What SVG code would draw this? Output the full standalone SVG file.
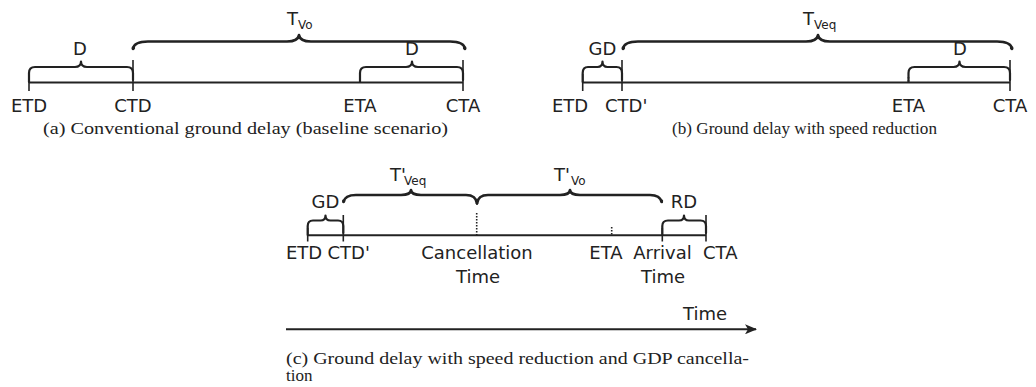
<svg xmlns="http://www.w3.org/2000/svg" width="1036" height="387" viewBox="0 0 1036 387">
<style>
.lbl{font-family:"DejaVu Sans",sans-serif;font-size:18px;fill:#222}
.sub{font-size:12px}
.cap{font-family:"Liberation Serif",serif;font-size:17px;fill:#222}
.axis{stroke:#222;stroke-width:2;fill:none}
.tick{stroke:#222;stroke-width:1.6;fill:none}
.dot{stroke:#222;stroke-width:1.6;stroke-dasharray:1.5 1.5;fill:none}
.brace{stroke:#222;stroke-width:2.2;fill:none;stroke-linecap:round;stroke-linejoin:round}
.bigbrace{stroke:#222;stroke-width:2.6;fill:none;stroke-linecap:round;stroke-linejoin:round}
.end{fill:#222}
</style>
<defs>
<marker id="arr" viewBox="0 0 12 10" refX="11" refY="5" markerWidth="12" markerHeight="10" markerUnits="userSpaceOnUse" orient="auto">
<path d="M0,0 L12,5 L0,10 L3,5 Z" fill="#222"/>
</marker>
</defs>

<!-- Panel (a) -->
<g id="panel-a">
<g id="a-connectors">
<line class="axis" x1="29" y1="82.5" x2="463" y2="82.5"/>
<line class="tick" x1="29" y1="74" x2="29" y2="91"/>
<line class="tick" x1="133" y1="60" x2="133" y2="91"/>
<line class="dot" x1="360" y1="77" x2="360" y2="82"/>
<line class="tick" x1="463" y1="60" x2="463" y2="91"/>
<path class="brace" d="M29,82 L29,73 Q29,67 35,67 L75,67 Q81,67 81,61.5 Q81,67 87,67 L127,67 Q133,67 133,73 L133,80"/>
<path class="brace" d="M360,82 L360,73 Q360,67 366,67 L406,67 Q412,67 412,61.5 Q412,67 418,67 L457,67 Q463,67 463,73 L463,80"/>
<path class="bigbrace" d="M133,49 Q134,41.5 148,41.5 L287,41.5 Q298,41.5 299,35 Q300,41.5 311,41.5 L450,41.5 Q464,41.5 465,49"/>
<circle class="end" cx="133.3" cy="48" r="1.8"/>
<circle class="end" cx="464.7" cy="48" r="1.8"/>
</g>
<g id="a-etd"><text class="lbl" x="29" y="111.5" text-anchor="middle">ETD</text></g>
<g id="a-ctd"><text class="lbl" x="133" y="111.5" text-anchor="middle">CTD</text></g>
<g id="a-eta"><text class="lbl" x="360" y="111.5" text-anchor="middle">ETA</text></g>
<g id="a-cta"><text class="lbl" x="463" y="111.5" text-anchor="middle">CTA</text></g>
<g id="a-d1"><text class="lbl" x="80" y="55" text-anchor="middle">D</text></g>
<g id="a-d2"><text class="lbl" x="412" y="55" text-anchor="middle">D</text></g>
<g id="a-t"><text class="lbl" x="287" y="25">T<tspan class="sub" dy="4">Vo</tspan></text></g>
<text class="cap" x="43" y="134" textLength="405" lengthAdjust="spacingAndGlyphs">(a) Conventional ground delay (baseline scenario)</text>
</g>

<!-- Panel (b) -->
<g id="panel-b">
<g id="b-connectors">
<line class="axis" x1="582.7" y1="82.5" x2="1010" y2="82.5"/>
<line class="tick" x1="582.7" y1="74" x2="582.7" y2="91"/>
<line class="tick" x1="622" y1="60" x2="622" y2="91"/>
<line class="dot" x1="908.5" y1="77" x2="908.5" y2="82"/>
<line class="tick" x1="1010" y1="60" x2="1010" y2="91"/>
<path class="brace" d="M582.7,82 L582.7,73 Q582.7,67 588,67 L597.5,67 Q602.5,67 602.5,61.5 Q602.5,67 607.5,67 L616.5,67 Q622,67 622,73 L622,80"/>
<path class="brace" d="M908.5,82 L908.5,73 Q908.5,67 914.5,67 L953.5,67 Q959.5,67 959.5,61.5 Q959.5,67 965.5,67 L1004,67 Q1010,67 1010,73 L1010,80"/>
<path class="bigbrace" d="M623,49 Q624,41.5 638,41.5 L806,41.5 Q817,41.5 818,35 Q819,41.5 830,41.5 L997,41.5 Q1011,41.5 1012,49"/>
<circle class="end" cx="623.3" cy="48" r="1.8"/>
<circle class="end" cx="1011.7" cy="48" r="1.8"/>
</g>
<g id="b-etd"><text class="lbl" x="552" y="111.5">ETD</text></g>
<g id="b-ctd"><text class="lbl" x="605" y="111.5">CTD'</text></g>
<g id="b-eta"><text class="lbl" x="908.5" y="111.5" text-anchor="middle">ETA</text></g>
<g id="b-cta"><text class="lbl" x="1010" y="111.5" text-anchor="middle">CTA</text></g>
<g id="b-gd"><text class="lbl" x="602.5" y="55" text-anchor="middle">GD</text></g>
<g id="b-d"><text class="lbl" x="960" y="55" text-anchor="middle">D</text></g>
<g id="b-t"><text class="lbl" x="803" y="25">T<tspan class="sub" dy="4">Veq</tspan></text></g>
<text class="cap" x="672" y="134" textLength="265" lengthAdjust="spacingAndGlyphs">(b) Ground delay with speed reduction</text>
</g>

<!-- Panel (c) -->
<g id="panel-c">
<g id="c-connectors">
<line class="axis" x1="307.7" y1="235.3" x2="706" y2="235.3"/>
<line class="tick" x1="307.7" y1="228" x2="307.7" y2="241.5"/>
<line class="tick" x1="343.3" y1="215" x2="343.3" y2="241.5"/>
<line class="dot" x1="476.7" y1="213" x2="476.7" y2="235"/>
<line class="dot" x1="611.7" y1="227" x2="611.7" y2="235"/>
<line class="tick" x1="662.3" y1="228" x2="662.3" y2="241.5"/>
<line class="tick" x1="706" y1="215" x2="706" y2="241.5"/>
<path class="brace" d="M307.7,235 L307.7,226 Q307.7,220.5 313,220.5 L320.5,220.5 Q325.5,220.5 325.5,215.5 Q325.5,220.5 330.5,220.5 L338,220.5 Q343.3,220.5 343.3,226 L343.3,233"/>
<path class="brace" d="M662.3,235 L662.3,226 Q662.3,220.5 668,220.5 L679,220.5 Q684,220.5 684,215.5 Q684,220.5 689,220.5 L700.5,220.5 Q706,220.5 706,226 L706,233"/>
<path class="bigbrace" d="M343.5,202 Q345,195 356,195 L401,195 Q410.5,195 411,190 Q411.5,195 421,195 L466,195 Q476,195 477,203.5"/>
<path class="bigbrace" d="M477,203.5 Q478,195 488,195 L560,195 Q569.5,195 570,190 Q570.5,195 580,195 L650,195 Q660,195 661.7,202"/>
<circle class="end" cx="343.7" cy="201" r="1.7"/>
<circle class="end" cx="661.5" cy="201" r="1.7"/>
</g>
<g id="c-etd"><text class="lbl" x="286" y="259">ETD</text></g>
<g id="c-ctd"><text class="lbl" x="327.5" y="259">CTD'</text></g>
<g id="c-cancel"><text class="lbl" x="477" y="259" text-anchor="middle">Cancellation</text><text class="lbl" x="478" y="283" text-anchor="middle">Time</text></g>
<g id="c-eta"><text class="lbl" x="606" y="259" text-anchor="middle">ETA</text></g>
<g id="c-arrival"><text class="lbl" x="662.5" y="259" text-anchor="middle">Arrival</text><text class="lbl" x="663" y="283" text-anchor="middle">Time</text></g>
<g id="c-cta"><text class="lbl" x="703" y="259">CTA</text></g>
<g id="c-gd"><text class="lbl" x="325.5" y="208" text-anchor="middle">GD</text></g>
<g id="c-rd"><text class="lbl" x="684" y="208" text-anchor="middle">RD</text></g>
<g id="c-tveq"><text class="lbl" x="390" y="181">T'<tspan class="sub" x="404" dy="4">Veq</tspan></text></g>
<g id="c-tvo"><text class="lbl" x="554" y="181">T'<tspan class="sub" x="571" dy="4">Vo</tspan></text></g>
<g id="time-axis">
<line class="axis" x1="286" y1="329.3" x2="756" y2="329.3" marker-end="url(#arr)"/>
<text class="lbl" x="705" y="320" text-anchor="middle">Time</text>
</g>
<text class="cap" x="286" y="364" textLength="463" lengthAdjust="spacingAndGlyphs">(c) Ground delay with speed reduction and GDP cancella-</text>
<text class="cap" x="286" y="381">tion</text>
</g>
</svg>
